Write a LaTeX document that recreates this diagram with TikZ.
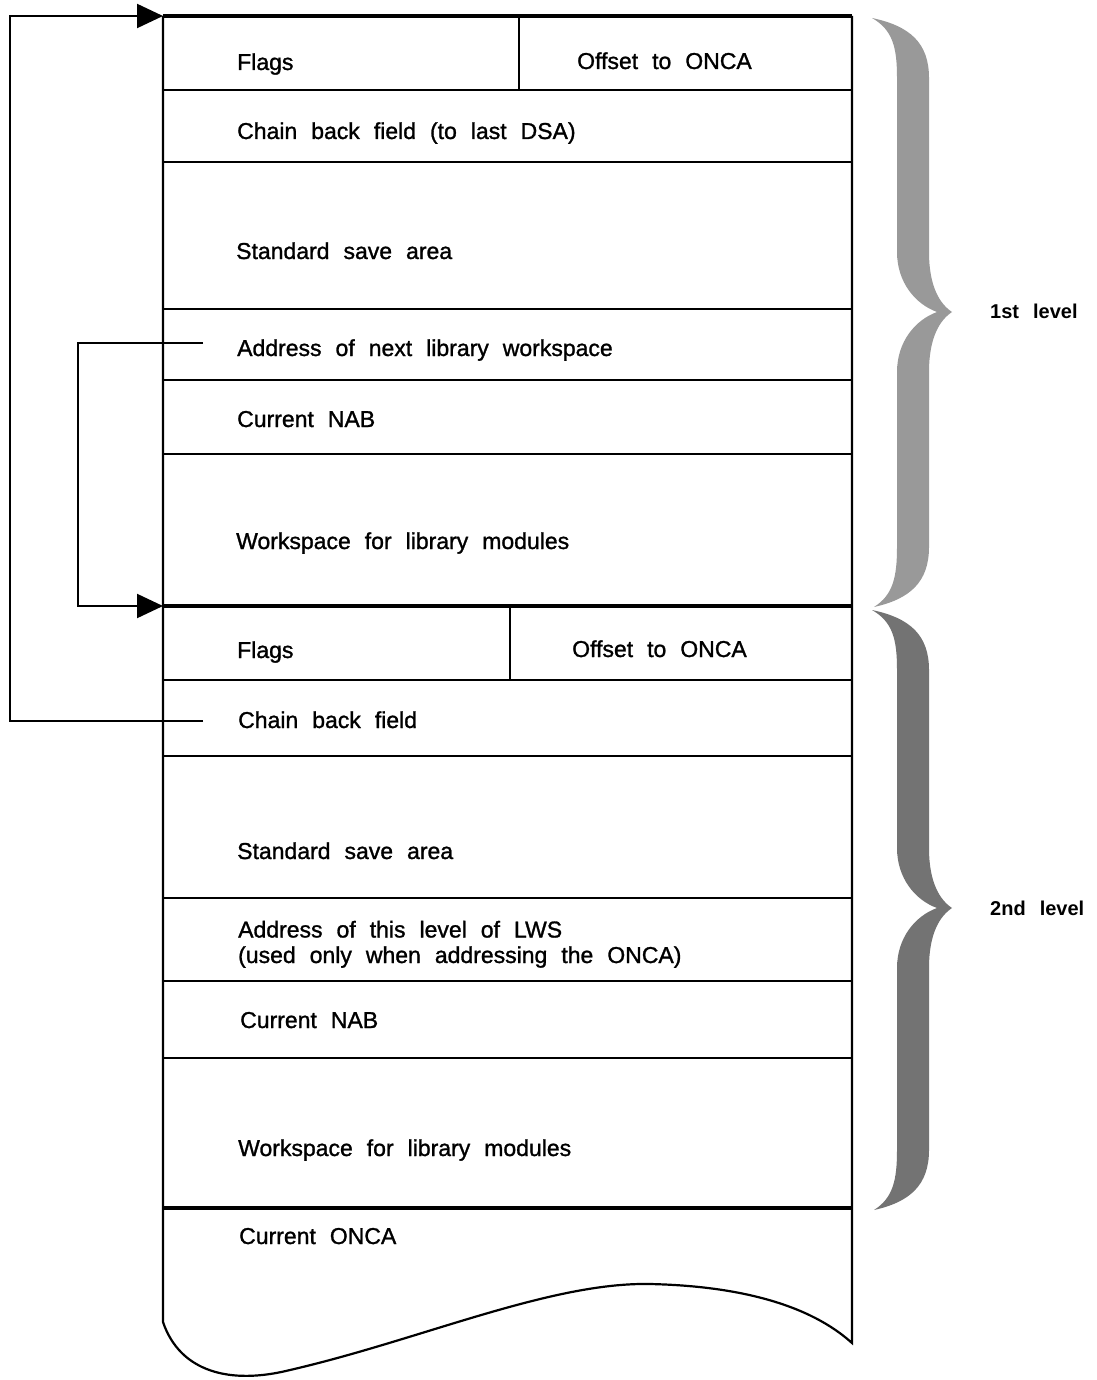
\documentclass[tikz,border=0pt]{standalone}
\usepackage{fontspec}
\setmainfont{Liberation Sans}
\newfontface\lblfont{Liberation Sans}[FakeBold=1.2]
\usetikzlibrary{arrows.meta}
\protected\def\wordgap{\spaceskip=14pt\relax}
\tikzset{
  lbl/.style={anchor=base west, inner sep=0pt, align=left,
    font=\lblfont\fontsize{23}{25.5}\selectfont\wordgap},
  lvl/.style={anchor=base west, inner sep=0pt,
    font=\fontsize{20}{24}\selectfont\bfseries\wordgap},
  boxline/.style={line width=2.2pt},
  heavy/.style={line width=3.2pt},
  link/.style={line width=2.2pt},
  tipped/.style={-{Triangle[length=26pt,width=24pt]}},
  braceA/.style={fill=black!40, draw=none},
  braceB/.style={fill=black!55, draw=none},
}
\newcommand\mybrace[4]{%
  \fill[#4] (872,#1) .. controls (910,{#1+8}) and (929,{#1+25}) .. (929,{#1+60})
    -- (929,{#2-60}) .. controls (929,{#2-25}) and (940,{#2-8}) .. (952,#2)
    .. controls (940,{#2+8}) and (929,{#2+25}) .. (929,{#2+60})
    -- (929,{#3-60}) .. controls (929,{#3-25}) and (910,{#3-8}) .. (874,#3)
    .. controls (893,{#3-12}) and (897,{#3-30}) .. (897,{#3-60})
    -- (897,{#2+60}) .. controls (897,{#2+30}) and (915,{#2+8}) .. (937,#2)
    .. controls (915,{#2-8}) and (897,{#2-30}) .. (897,{#2-60})
    -- (897,{#1+60}) .. controls (897,{#1+30}) and (893,{#1+12}) .. cycle;}
\begin{document}
\begin{tikzpicture}[x=1pt,y=-1pt]
\useasboundingbox (0,0) rectangle (1096,1380);

% outline of the storage area
\draw[boxline] (163,16) -- (163,1322)
  .. controls (180,1372) and (230,1385) .. (290,1370)
  .. controls (420,1340) and (550,1282) .. (650,1284)
  .. controls (740,1286) and (810,1305) .. (852,1343)
  -- (852,16);
\draw[heavy] (163,16) -- (852,16);
\draw[heavy] (163,606) -- (852,606);
\draw[heavy] (163,1208) -- (852,1208);
\foreach \yy in {90,162,309,380,454,680,756,898,981,1058}
  \draw[boxline] (163,\yy) -- (852,\yy);
\draw[boxline] (519,16) -- (519,90);
\draw[boxline] (510,606) -- (510,680);

% texts, first level
\node[lbl] (flags1) at (237,70) {Flags};
\node[lbl] (off1) at (577,69) {Offset to ONCA};
\node[lbl] (chain1) at (237,139) {Chain back field (to last DSA)};
\node[lbl] (save1) at (236,259) {Standard save area};
\node[lbl] (next1) at (237,356) {Address of next library workspace};
\node[lbl] (nab1) at (237,427) {Current NAB};
\node[lbl] (ws1) at (236,549) {Workspace for library modules};
% texts, second level
\node[lbl] (flags2) at (237,658) {Flags};
\node[lbl] (off2) at (572,657) {Offset to ONCA};
\node[lbl] (chain2) at (238,728) {Chain back field};
\node[lbl] (save2) at (237,859) {Standard save area};
\node[lbl] (lws2) at (238,963) {Address of this level of LWS\\(used only when addressing the ONCA)};
\node[lbl] (nab2) at (240,1028) {Current NAB};
\node[lbl] (ws2) at (238,1156) {Workspace for library modules};
\node[lbl] (onca) at (239,1244) {Current ONCA};

% braces and level labels
\mybrace{18}{312}{607}{braceA}
\mybrace{610}{908}{1210}{braceB}
\node[lvl] (l1) at (990,318) {1st level};
\node[lvl] (l2) at (990,915) {2nd level};

% chain pointers
\coordinate (nextws) at (203,343);
\coordinate (chainback) at (203,721);
\coordinate (lvlone) at (163,16);
\coordinate (lvltwo) at (163,606);
\draw[link,tipped] (nextws) -- ++(-125,0) |- (lvltwo);
\draw[link,tipped] (chainback) -- ++(-193,0) |- (lvlone);
\end{tikzpicture}
\end{document}
